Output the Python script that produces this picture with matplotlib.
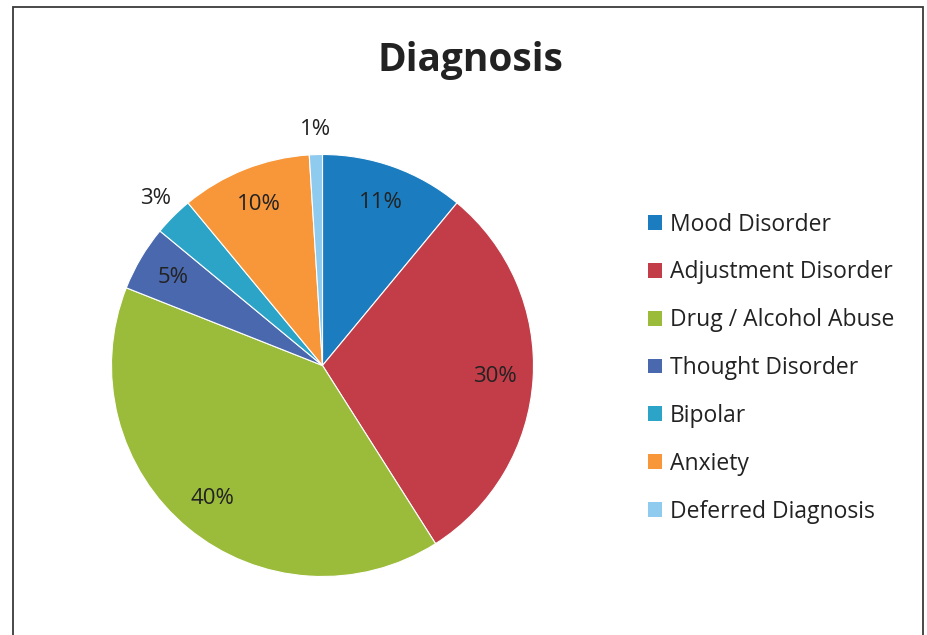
import math
import matplotlib.pyplot as plt
from matplotlib.patches import Rectangle

# datos del grafico
categorias = ['Mood Disorder', 'Adjustment Disorder', 'Drug / Alcohol Abuse',
              'Thought Disorder', 'Bipolar', 'Anxiety', 'Deferred Diagnosis']
porcentajes = [11, 30, 40, 5, 3, 10, 1]
colores = ['#1b7dbf', '#c33d49', '#9bbb3b', '#4a68ad', '#2ca4c8', '#f7973a', '#8ecbee']

plt.rcParams['font.family'] = ['Open Sans', 'DejaVu Sans']

W, H = 927, 635
fig = plt.figure(figsize=(W / 100, H / 100), dpi=100)

# marco exterior (el borde inferior queda fuera de la imagen)
fig.patches.append(Rectangle((13 / W, -5 / H), 910 / W, (H - 7 + 5) / H, transform=fig.transFigure,
                             fill=False, edgecolor='#3a3a3a', linewidth=1.3))

fig.text(470 / W, 1 - 61 / H, 'Diagnosis', ha='center', va='center',
         fontsize=28, fontweight='bold', color='#222222')

# pastel
cx, cy, r = 322.5, H - 365.5, 211
ax = fig.add_axes([(cx - r) / W, (cy - r) / H, 2 * r / W, 2 * r / H])
wedges, textos, autotextos = ax.pie(porcentajes, colors=colores, startangle=90,
                                    counterclock=False, autopct='%d%%', pctdistance=0.82,
                                    wedgeprops={'edgecolor': 'white', 'linewidth': 0.8},
                                    textprops={'fontsize': 16, 'color': '#222222'})
ax.set_xlim(-1, 1)
ax.set_ylim(-1, 1)
ax.set_aspect('equal')

# etiquetas pequeñas afuera
for w, t, v in zip(wedges, autotextos, porcentajes):
    if v < 4:
        ang = math.radians((w.theta1 + w.theta2) / 2)
        t.set_position((1.12 * math.cos(ang), 1.12 * math.sin(ang)))
    t.set_clip_on(False)

# cuadritos de la leyenda sin borde blanco
handles = [Rectangle((0, 0), 1, 1, facecolor=c, edgecolor='none') for c in colores]
leg = fig.legend(handles, categorias, loc='upper left', bbox_to_anchor=(627 / W, 1 - 192 / H),
                 frameon=False, fontsize=16.5, handlelength=0.62, handleheight=0.62,
                 handletextpad=0.35, labelspacing=1.04, labelcolor='#222222')

fig.savefig('out.png', dpi=100)
